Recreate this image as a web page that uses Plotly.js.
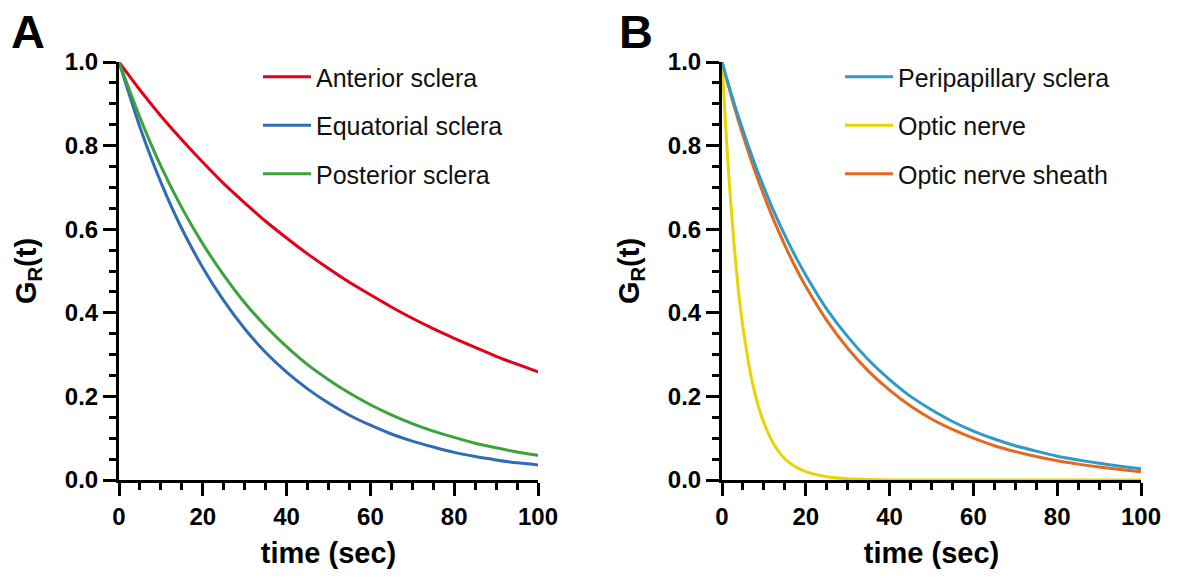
<!DOCTYPE html>
<html>
<head>
<meta charset="utf-8">
<script src="https://cdn.plot.ly/plotly-3.0.1.min.js"></script>
<style>html,body{margin:0;padding:0;background:#fff;}#chart{width:1180px;height:580px;}</style>
</head>
<body>
<div id="chart"></div>
<script>
// Panel A: time (sec) and relaxation modulus G_R(t)
const timeA = [0,5,10,15,20,25,30,35,40,45,50,55,60,65,70,75,80,85,90,95,100];
const anteriorSclera   = [1.000,0.933,0.871,0.814,0.760,0.709,0.663,0.619,0.579,0.541,0.506,0.473,0.443,0.414,0.387,0.362,0.339,0.317,0.296,0.277,0.259];
const equatorialSclera = [1.000,0.844,0.712,0.601,0.508,0.429,0.362,0.305,0.258,0.218,0.184,0.155,0.131,0.110,0.093,0.079,0.066,0.056,0.048,0.041,0.036];
const posteriorSclera  = [1.000,0.867,0.751,0.651,0.565,0.490,0.424,0.368,0.319,0.276,0.240,0.208,0.180,0.156,0.135,0.117,0.102,0.088,0.077,0.067,0.059];

// Panel B
const timeB = [0,1,2,3,4,5,6,7,8,9,10,12,14,16,18,20,25,30,35,40,45,50,55,60,65,70,75,80,85,90,95,100];
const peripapillarySclera = [1.000,0.965,0.931,0.898,0.867,0.837,0.807,0.779,0.751,0.725,0.700,0.651,0.607,0.565,0.526,0.490,0.409,0.343,0.287,0.240,0.200,0.168,0.140,0.117,0.098,0.082,0.069,0.057,0.048,0.040,0.033,0.027];
const opticNerve          = [1.000,0.825,0.675,0.550,0.445,0.365,0.300,0.245,0.202,0.166,0.137,0.092,0.062,0.042,0.029,0.020,0.008,0.003,0.001,0.000,0.000,0.000,0.000,0.000,0.000,0.000,0.000,0.000,0.000,0.000,0.000,0.000];
const opticNerveSheath    = [1.000,0.962,0.926,0.891,0.857,0.825,0.794,0.764,0.735,0.707,0.681,0.630,0.584,0.540,0.500,0.463,0.382,0.315,0.260,0.215,0.177,0.146,0.121,0.100,0.082,0.068,0.056,0.046,0.038,0.031,0.025,0.020];

// Axis tick spacing (major / minor)
const xMajorStep = 20, xMinorStep = 5;
const yMajorStep = 0.2, yMinorStep = 0.05;

const FONT = 'Liberation Sans, Arial, Helvetica, sans-serif';
const W = 1180, H = 580;

function line(x, y, name, color, xa, ya, legend, rank, grp) {
  return {x: x, y: y, name: name, type: 'scatter', mode: 'lines',
    line: {color: color, width: 3, shape: 'spline', smoothing: 0.6},
    xaxis: xa, yaxis: ya, legend: legend, legendrank: rank, legendgroup: grp,
    hoverinfo: 'skip'};
}

const traces = [
  line(timeA, anteriorSclera, 'Anterior sclera', '#E2001A', 'x', 'y', 'legend', 1, 'a1'),
  line(timeA, equatorialSclera, 'Equatorial sclera', '#2F6CB3', 'x', 'y', 'legend', 2, 'a2'),
  line(timeA, posteriorSclera, 'Posterior sclera', '#3CA23A', 'x', 'y', 'legend', 3, 'a3'),
  line(timeB, opticNerveSheath, 'Optic nerve sheath', '#E2691F', 'x2', 'y2', 'legend2', 3, 'b3'),
  line(timeB, opticNerve, 'Optic nerve', '#E8D400', 'x2', 'y2', 'legend2', 2, 'b2'),
  line(timeB, peripapillarySclera, 'Peripapillary sclera', '#2E9AC6', 'x2', 'y2', 'legend2', 1, 'b1')
];

const tickFont = {family: FONT, size: 24, weight: 'bold', color: '#000'};
const titleFont = {family: FONT, size: 29, weight: 'bold', color: '#000'};

function xAxis(domain, anchor) {
  return {domain: domain, anchor: anchor, range: [0, 100], showline: true, linewidth: 3, linecolor: '#000',
    ticks: 'outside', ticklen: 13, tickwidth: 3, tickcolor: '#000',
    tick0: 0, dtick: xMajorStep, tickfont: tickFont,
    minor: {dtick: xMinorStep, ticks: 'outside', ticklen: 7, tickwidth: 3, tickcolor: '#000'},
    showgrid: false, zeroline: false,
    title: {text: 'time (sec)', font: titleFont, standoff: 14}};
}
function yAxis(domain, anchor) {
  return {domain: domain, anchor: anchor, range: [0, 1], showline: true, linewidth: 3, linecolor: '#000',
    ticks: 'outside', ticklen: 13, tickwidth: 3, tickcolor: '#000',
    tick0: 0, dtick: yMajorStep, tickformat: '.1f', tickfont: tickFont,
    minor: {dtick: yMinorStep, ticks: 'outside', ticklen: 7, tickwidth: 3, tickcolor: '#000'},
    showgrid: false, zeroline: false,
    title: {text: 'G<sub>R</sub>(t)', font: titleFont, standoff: 20}};
}

const yDom = [1 - 480 / H, 1 - 62 / H];
const legendCommon = {xanchor: 'left', yanchor: 'top', bgcolor: 'rgba(0,0,0,0)', borderwidth: 0,
  font: {family: FONT, size: 25, color: '#111'}, itemwidth: 48, tracegroupgap: 13, traceorder: 'grouped'};

const layout = {
  width: W, height: H, margin: {l: 0, r: 0, t: 0, b: 0},
  showlegend: true,
  xaxis: xAxis([119 / W, 538 / W], 'y'),
  yaxis: yAxis(yDom, 'x'),
  xaxis2: xAxis([722 / W, 1141 / W], 'y2'),
  yaxis2: yAxis(yDom, 'x2'),
  legend: Object.assign({x: 258 / W, y: 1 - 54 / H}, legendCommon),
  legend2: Object.assign({x: 840 / W, y: 1 - 54 / H}, legendCommon),
  annotations: [
    {text: 'A', xref: 'paper', yref: 'paper', x: 28 / W, y: 1 - 31 / H, xanchor: 'center', yanchor: 'middle', showarrow: false,
     font: {family: FONT, size: 47, weight: 'bold', color: '#000'}},
    {text: 'B', xref: 'paper', yref: 'paper', x: 636 / W, y: 1 - 31 / H, xanchor: 'center', yanchor: 'middle', showarrow: false,
     font: {family: FONT, size: 47, weight: 'bold', color: '#000'}}
  ]
};

// keep the axis tick layers on top of every other layer of the figure
function raiseTicks() {
  const svgs = document.querySelectorAll('#chart .main-svg');
  if (!svgs.length) return;
  const top = svgs[svgs.length - 1];
  document.querySelectorAll('#chart g[class*="axislayer-above"]').forEach(function(g) { top.appendChild(g); });
}
const gd = document.getElementById('chart');
Plotly.newPlot(gd, traces, layout, {displayModeBar: false}).then(function() {
  raiseTicks();
  gd.on('plotly_afterplot', raiseTicks);
  requestAnimationFrame(raiseTicks);
});
</script>
</body>
</html>
